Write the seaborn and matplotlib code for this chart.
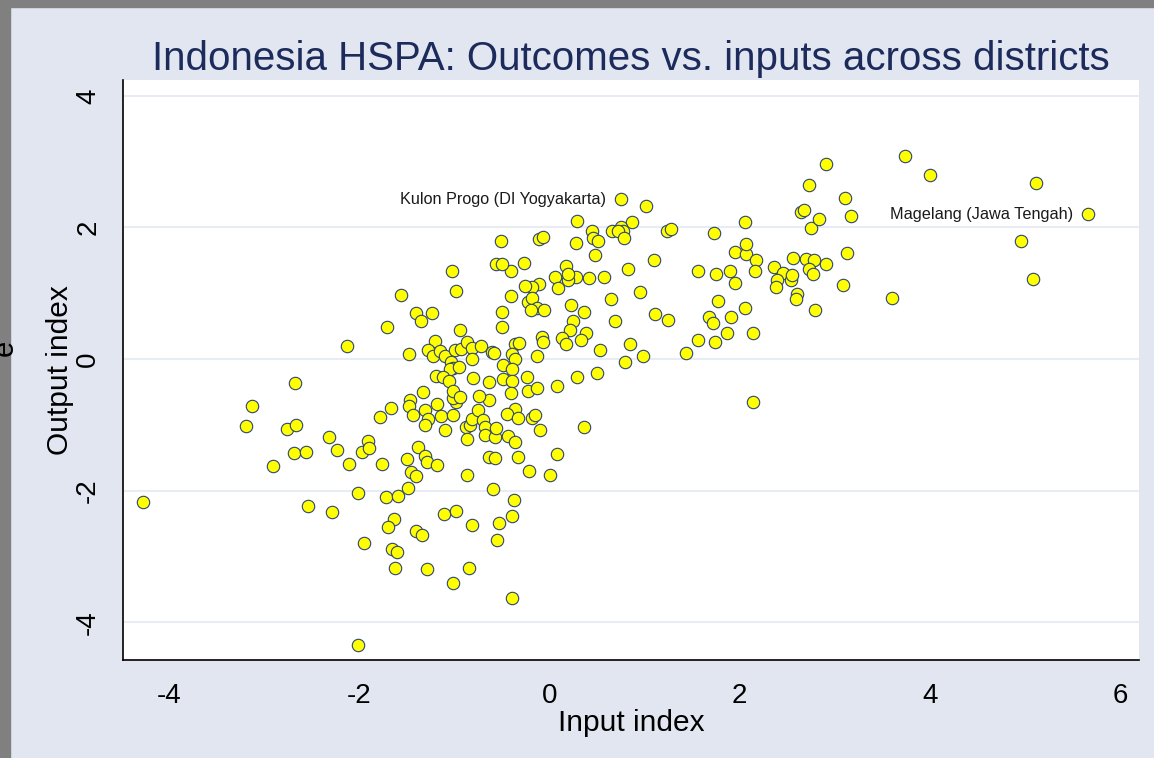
import matplotlib
matplotlib.use("Agg")
import matplotlib.pyplot as plt
import numpy as np
import pandas as pd
import seaborn as sns
from matplotlib.patches import Rectangle

# district-level indices
input_index = [
    -3.13, -3.19, -2.76, -2.66, -2.91, -2.69, -2.56, -2.32, -2.23, -2.11,
    -1.91, -1.97, -1.90, -1.78, -1.67, -1.47, -1.48, -1.44, -1.31, -1.28,
    -1.31, -1.18, -1.14, -1.01, -1.10, -0.98, -1.02, -0.88, -0.84, -0.81,
    -0.75, -0.70, -0.68, -0.68, -0.57, -0.87, -0.64, -0.56, -1.76, -1.50,
    -1.38, -1.31, -1.29, -1.18, -1.46, -1.40, -0.87, -0.64, -0.57, -1.49,
    -0.59, -4.27, -2.54, -2.29, -2.01, -1.72, -1.59, -1.64, -1.70, -1.40,
    -1.34, -1.11, -0.98, -0.81, -0.53, -0.55, -1.95, -1.66, -1.60, -1.62,
    -1.29, -0.85, -1.01, -2.01,
    -0.56, -1.03, -0.98, -1.56, -1.40, -1.24, -1.35, -1.71, -0.94, -2.13,
    -1.48, -1.20, -1.28, -1.23, -1.15, -1.10, -0.99, -0.93, -0.87, -0.81,
    -0.72, -0.82, -0.61, -0.58, -1.04, -1.01, -1.05, -0.95, -1.19, -1.12,
    -1.06, -0.80, -0.64, -2.68, -1.33, -1.02, -0.94, -0.74,
    0.75, 1.01, 0.29, 0.87, 0.66, 0.75, 0.77, 0.72, 0.78, 0.45,
    0.46, 0.51, 0.28, -0.11, -0.07, -0.51, 0.48, 1.23, 1.28, 1.10,
    0.83, 0.57, 0.42, 0.28, 0.19, 0.17, 0.19, 0.06, 0.09, -0.11,
    -0.18, -0.26, -0.27, -0.40, -0.50, -0.41, -0.50, -0.50, -0.23, -0.18,
    -0.13, -0.19, -0.06, 0.23, 0.36, 0.65, 0.95, 0.69, 0.25, 0.21,
    0.38, 0.33, 0.13, 0.17, -0.08, -0.07, -0.36, -0.32, -0.39, -0.36,
    -0.13, 0.53, 0.85, 0.79, 0.98, 1.11, 1.24, 1.43, 1.56, 1.74,
    1.68, 1.72, 1.87, 1.91, 1.77, 2.05, 2.14, 1.56, 1.75, 1.90,
    1.95, 1.73, 1.95, 2.06, 2.07, 2.17, 2.05, 2.16, 2.36, 2.45,
    2.39, 2.54, 2.55, 2.56, 2.38, 2.60, 2.59, 2.79, 2.70, 2.78,
    2.73, 2.77, 2.91, 3.09, 3.13, 2.75, 2.83, 2.64, 2.68, 2.73,
    3.11, 3.17, 3.60, 2.14, -0.49, -0.49, -0.39, -0.39, -0.40, -0.24,
    -0.23, -0.13, 0.08, 0.29, 0.50, -0.36, -0.45, -0.33, -0.18, -0.15,
    -0.10, -0.44, -0.36, 0.36, 0.08, -0.33, -0.22, 0.00, -0.37, -0.39,
    -0.39, 2.91, 3.74, 4.00, 5.11, 5.66, 4.96, 5.08,
]
output_index = [
    -0.72, -1.02, -1.07, -1.00, -1.62, -1.43, -1.42, -1.19, -1.38, -1.59,
    -1.24, -1.42, -1.36, -0.88, -0.74, -0.62, -0.71, -0.85, -0.78, -0.92,
    -1.00, -0.69, -0.87, -0.85, -1.08, -0.66, -0.60, -1.03, -1.01, -0.92,
    -0.78, -0.93, -1.03, -1.15, -1.19, -1.22, -0.62, -1.05, -1.60, -1.52,
    -1.34, -1.48, -1.57, -1.61, -1.72, -1.78, -1.77, -1.49, -1.50, -1.96,
    -1.97, -2.17, -2.24, -2.32, -2.03, -2.10, -2.09, -2.43, -2.56, -2.62,
    -2.67, -2.35, -2.31, -2.52, -2.50, -2.75, -2.79, -2.89, -2.93, -3.17,
    -3.19, -3.17, -3.40, -4.34,
    1.45, 1.33, 1.04, 0.97, 0.70, 0.70, 0.57, 0.48, 0.44, 0.20,
    0.08, 0.27, 0.13, 0.04, 0.12, 0.05, 0.13, 0.15, 0.25, 0.17,
    0.20, 0.00, 0.11, 0.09, -0.05, -0.14, -0.15, -0.13, -0.26, -0.27,
    -0.33, -0.29, -0.35, -0.37, -0.50, -0.48, -0.58, -0.57,
    2.43, 2.32, 2.10, 2.08, 1.95, 2.00, 1.95, 1.95, 1.84, 1.94,
    1.84, 1.80, 1.76, 1.83, 1.86, 1.80, 1.58, 1.95, 1.98, 1.51,
    1.36, 1.25, 1.23, 1.25, 1.20, 1.42, 1.29, 1.25, 1.08, 1.14,
    1.10, 1.11, 1.46, 1.33, 1.45, 0.95, 0.71, 0.48, 0.87, 0.93,
    0.78, 0.75, 0.75, 0.82, 0.71, 0.91, 1.02, 0.57, 0.57, 0.44,
    0.40, 0.29, 0.32, 0.23, 0.33, 0.26, 0.23, 0.24, 0.08, 0.00,
    0.05, 0.14, 0.22, -0.04, 0.04, 0.68, 0.59, 0.09, 0.29, 0.26,
    0.64, 0.54, 0.39, 0.64, 0.88, 0.78, 0.40, 1.34, 1.29, 1.34,
    1.15, 1.91, 1.63, 1.59, 1.75, 1.51, 2.08, 1.34, 1.40, 1.31,
    1.20, 1.20, 1.28, 1.54, 1.10, 0.98, 0.91, 0.75, 1.52, 1.51,
    1.37, 1.29, 1.45, 1.12, 1.61, 1.99, 2.13, 2.24, 2.26, 2.65,
    2.45, 2.18, 0.93, -0.66, -0.09, -0.31, -0.16, -0.34, -0.51, -0.28,
    -0.48, -0.44, -0.41, -0.28, -0.22, -0.76, -0.84, -0.90, -0.90, -0.85,
    -1.08, -1.17, -1.26, -1.03, -1.44, -1.49, -1.71, -1.77, -2.14, -2.39,
    -3.63, 2.96, 3.08, 2.79, 2.67, 2.20, 1.79, 1.21,
]

# labelled districts
label_names = ["Kulon Progo (DI Yogyakarta)", "Magelang (Jawa Tengah)"]
label_x = [0.75, 5.66]
label_y = [2.43, 2.20]

x_ticks = [-4, -2, 0, 2, 4, 6]
y_ticks = [-4, -2, 0, 2, 4]

df = pd.DataFrame({"input": input_index, "output": output_index})

bg = "#e1e6f0"
navy = "#1c2b5c"

sns.set_style("white")
plt.rcParams["font.family"] = ["Liberation Sans", "DejaVu Sans"]
plt.rcParams["text.color"] = "black"
plt.rcParams["axes.labelcolor"] = "black"
plt.rcParams["xtick.color"] = "black"
plt.rcParams["ytick.color"] = "black"

fig = plt.figure(figsize=(11.54, 7.58), dpi=100, facecolor=bg)
# grey frame strips on the left and top edges
fig.patches.append(Rectangle((0, 0), 10 / 1154, 1, transform=fig.transFigure,
                             color="#808080", zorder=0))
fig.patches.append(Rectangle((0, 1 - 7 / 758), 1, 7 / 758, transform=fig.transFigure,
                             color="#808080", zorder=0))

ax = fig.add_axes([0.1069, 0.1289, 0.8804, 0.7656])
ax.set_facecolor("white")

sns.scatterplot(data=df, x="input", y="output", ax=ax,
                color="#ffff00", edgecolor="#2d4473", linewidth=0.8,
                s=80, zorder=3)

for name, lx, ly in zip(label_names, label_x, label_y):
    ax.annotate(name, (lx, ly), xytext=(-11, 0), textcoords="offset points",
                ha="right", va="center", fontsize=11.7, color="#1a1a1a")

ax.set_xlim(-4.48, 6.20)
ax.set_ylim(-4.58, 4.24)
ax.set_xticks(x_ticks)
ax.set_yticks(y_ticks)
ax.set_xticklabels([str(t) for t in x_ticks], fontsize=20)
ax.set_yticklabels([str(t) for t in y_ticks], fontsize=20, rotation=90, va="center")
ax.tick_params(axis="both", direction="out", length=8, width=1, color="#333333", pad=8)

ax.grid(axis="y", color="#e8ecf4", linewidth=1.5)
ax.grid(axis="x", visible=False)
ax.set_axisbelow(True)

for side in ["top", "right"]:
    ax.spines[side].set_visible(False)
for side in ["left", "bottom"]:
    ax.spines[side].set_color("black")
    ax.spines[side].set_linewidth(1.2)

ax.set_xlabel("Input index", fontsize=21.5, labelpad=0)
ax.set_ylabel("Output index", fontsize=21.5, labelpad=1)
ax.set_title("Indonesia HSPA: Outcomes vs. inputs across districts",
             fontsize=29, color=navy, pad=7)

# clipped remnant of an outer label at the left edge
fig.text(-0.008, 0.541, "e", rotation=90, fontsize=21, ha="left", va="center")

fig.savefig("out.png", dpi=100, facecolor=bg)
